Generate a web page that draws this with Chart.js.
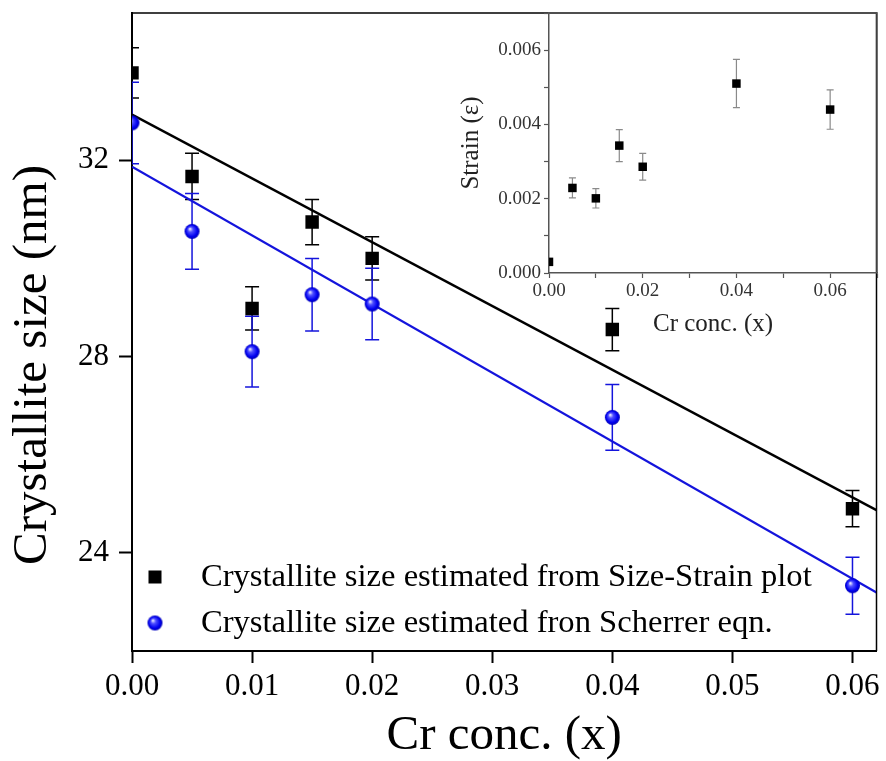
<!DOCTYPE html>
<html lang="en">
<head>
  <meta charset="UTF-8" />
  <title>Crystallite size vs Cr conc.</title>
  <script src="https://cdn.jsdelivr.net/npm/chart.js"></script>
  <style>
    html, body { margin: 0; padding: 0; background: #fff; }
    #wrap { position: relative; width: 886px; height: 761px; }
    #mainBox { position: absolute; left: 0; top: 0; width: 886px; height: 761px; }
    #insetBox { position: absolute; left: 440px; top: 0; width: 446px; height: 345px; }
  </style>
</head>
<body>
  <div id="wrap">
    <div id="mainBox"><canvas id="mainChart"></canvas></div>
    <div id="insetBox"><canvas id="insetChart"></canvas></div>
  </div>
  <script>
    // values
    const crConc = [0, 0.005, 0.01, 0.015, 0.02, 0.04, 0.06];
    const sizeStrain = [33.78, 31.67, 28.98, 30.74, 30.00, 28.55, 24.90];
    const sizeStrainErr = [0.51, 0.47, 0.44, 0.46, 0.44, 0.43, 0.37];
    const scherrer = [32.76, 30.55, 28.10, 29.26, 29.07, 26.76, 23.33];
    const scherrerErr = [0.83, 0.77, 0.72, 0.74, 0.73, 0.67, 0.58];
    // linear fits (end points)
    const fitX = [0, 0.062];
    const sizeStrainFit = [32.93, 24.87];
    const scherrerFit = [31.87, 23.19];
    // inset: strain
    const strain = [0.0003, 0.00229, 0.00201, 0.00343, 0.00286, 0.0051, 0.0044];
    const strainErr = [0, 0.00027, 0.00026, 0.00043, 0.00036, 0.00065, 0.00053];

    const legendLabels = [
      'Crystallite size estimated from Size-Strain plot',
      'Crystallite size estimated fron Scherrer eqn.'
    ];
    const yTitle = 'Crystallite size (nm)';

    const SERIF = '"Liberation Serif", "Times New Roman", serif';
    const BLUE = '#1414dc';

    const pts = (xs, ys) => xs.map((x, i) => ({ x, y: ys[i] }));

    const makeSphere = (r) => {
      const c = document.createElement('canvas');
      const s = Math.ceil(r * 2) + 2;
      c.width = c.height = s;
      const g = c.getContext('2d');
      const cx = s / 2, cy = s / 2;
      const grad = g.createRadialGradient(cx - r * 0.3, cy - r * 0.35, r * 0.05, cx, cy, r);
      grad.addColorStop(0, '#ececff');
      grad.addColorStop(0.3, '#5050ff');
      grad.addColorStop(0.75, '#0000f0');
      grad.addColorStop(1, '#0000b4');
      g.fillStyle = grad;
      g.beginPath();
      g.arc(cx, cy, r, 0, Math.PI * 2);
      g.fill();
      return c;
    };
    const sphere = makeSphere(7.5);

    // keep the plot area exactly where the layout padding puts it
    const noScalePad = s => {
      s.paddingTop = 0; s.paddingBottom = 0;
      s.paddingLeft = 0; s.paddingRight = 0;
    };

    const errorBars = {
      id: 'errorBars',
      beforeDatasetsDraw(chart) {
        const { ctx, chartArea: a, scales: { x, y } } = chart;
        ctx.save();
        ctx.beginPath();
        ctx.rect(a.left, a.top, a.width, a.height);
        ctx.clip();
        chart.data.datasets.forEach(ds => {
          if (!ds.errors) return;
          ctx.strokeStyle = ds.errorColor;
          ctx.lineWidth = ds.errorWidth;
          ds.data.forEach((p, i) => {
            const e = ds.errors[i];
            if (!e) return;
            const px = x.getPixelForValue(p.x);
            const y1 = y.getPixelForValue(p.y + e);
            const y2 = y.getPixelForValue(p.y - e);
            const c = ds.errorCap;
            ctx.beginPath();
            ctx.moveTo(px, y1); ctx.lineTo(px, y2);
            ctx.moveTo(px - c, y1); ctx.lineTo(px + c, y1);
            ctx.moveTo(px - c, y2); ctx.lineTo(px + c, y2);
            ctx.stroke();
          });
        });
        ctx.restore();
      }
    };

    const frame = {
      id: 'frame',
      afterDraw(chart, args, opts) {
        const { ctx, chartArea: a } = chart;
        ctx.save();
        ctx.strokeStyle = opts.color;
        ctx.lineWidth = opts.width;
        ctx.beginPath();
        ctx.moveTo(a.left, a.top);
        ctx.lineTo(a.right, a.top);
        ctx.lineTo(a.right, a.bottom);
        ctx.stroke();
        ctx.restore();
      }
    };

    // legend inside the plot + y title sitting a bit below centre, as in the figure
    const innerLegend = {
      id: 'innerLegend',
      afterDraw(chart) {
        const { ctx, chartArea: a } = chart;
        ctx.save();
        ctx.font = '32.6px ' + SERIF;
        ctx.fillStyle = '#000';
        ctx.textBaseline = 'middle';
        ctx.textAlign = 'left';
        const rows = [a.bottom - 74, a.bottom - 28];
        const mx = a.left + 23;
        ctx.fillRect(mx - 6.5, rows[0] - 6.5, 13, 13);
        ctx.drawImage(sphere, mx - sphere.width / 2, rows[1] - sphere.height / 2);
        legendLabels.forEach((t, i) => ctx.fillText(t, a.left + 69, rows[i]));

        ctx.translate(33, 365);
        ctx.rotate(-Math.PI / 2);
        ctx.textAlign = 'center';
        ctx.font = '49px ' + SERIF;
        ctx.fillText(yTitle, 0, 0);
        ctx.restore();
      }
    };

    new Chart(document.getElementById('mainChart'), {
      type: 'scatter',
      data: {
        datasets: [
          {
            label: legendLabels[0],
            data: pts(crConc, sizeStrain),
            pointStyle: 'rect',
            pointRadius: 9.5,
            backgroundColor: '#000',
            borderColor: '#000',
            borderWidth: 0,
            clip: 0,
            order: 0,
            errors: sizeStrainErr, errorColor: '#000', errorWidth: 1.5, errorCap: 7
          },
          {
            label: legendLabels[1],
            data: pts(crConc, scherrer),
            pointStyle: sphere,
            pointRadius: 7.5,
            clip: 0,
            order: 0,
            errors: scherrerErr, errorColor: BLUE, errorWidth: 1.5, errorCap: 7
          },
          {
            label: 'fit 1',
            type: 'line',
            data: pts(fitX, sizeStrainFit),
            borderColor: '#000',
            borderWidth: 2.5,
            pointRadius: 0,
            clip: 0,
            order: 1
          },
          {
            label: 'fit 2',
            type: 'line',
            data: pts(fitX, scherrerFit),
            borderColor: BLUE,
            borderWidth: 2.2,
            pointRadius: 0,
            clip: 0,
            order: 1
          }
        ]
      },
      options: {
        responsive: true,
        maintainAspectRatio: false,
        animation: false,
        events: [],
        layout: { padding: { left: 0, right: 8, top: 13, bottom: 0 } },
        plugins: {
          legend: { display: false },
          tooltip: { enabled: false },
          frame: { color: '#000', width: 1.5 }
        },
        scales: {
          x: {
            type: 'linear',
            min: 0,
            max: 0.062,
            afterFit: s => { s.height = 110; noScalePad(s); },
            border: { display: true, color: '#000', width: 2 },
            grid: { drawOnChartArea: false, drawTicks: true, tickLength: 12, tickWidth: 2, tickColor: '#000' },
            ticks: {
              stepSize: 0.01,
              includeBounds: false,
              autoSkip: false,
              maxRotation: 0,
              padding: 5,
              color: '#000',
              font: { family: SERIF, size: 31 },
              callback: v => v.toFixed(2)
            },
            title: {
              display: true,
              text: 'Cr conc. (x)',
              color: '#000',
              font: { family: SERIF, size: 49, lineHeight: 1 },
              padding: { top: 0, bottom: 0 }
            }
          },
          y: {
            min: 22,
            max: 35,
            afterFit: s => { s.width = 132; noScalePad(s); },
            border: { display: true, color: '#000', width: 2 },
            grid: { drawOnChartArea: false, drawTicks: true, tickLength: 13, tickWidth: 2, tickColor: '#000' },
            ticks: {
              stepSize: 4,
              includeBounds: false,
              padding: 10,
              color: '#000',
              font: { family: SERIF, size: 31 }
            },
            title: { display: false }
          }
        }
      },
      plugins: [errorBars, frame, innerLegend]
    });

    new Chart(document.getElementById('insetChart'), {
      type: 'scatter',
      data: {
        datasets: [{
          label: 'Strain',
          data: pts(crConc, strain),
          pointStyle: 'rect',
          pointRadius: 6,
          backgroundColor: '#000',
          borderWidth: 0,
          clip: 0,
          errors: strainErr, errorColor: '#8a8a8a', errorWidth: 1.2, errorCap: 3.5
        }]
      },
      options: {
        responsive: true,
        maintainAspectRatio: false,
        animation: false,
        events: [],
        layout: { padding: { left: 0, right: 9, top: 13, bottom: 0 } },
        plugins: {
          legend: { display: false },
          tooltip: { enabled: false },
          frame: { color: '#555', width: 1.5 }
        },
        scales: {
          x: {
            type: 'linear',
            min: 0,
            max: 0.07,
            afterFit: s => { s.height = 72; noScalePad(s); },
            border: { display: true, color: '#555', width: 1.5 },
            grid: { drawOnChartArea: false, drawTicks: true, tickLength: 5, tickWidth: 1.2, tickColor: '#555' },
            ticks: {
              stepSize: 0.01,
              autoSkip: false,
              maxRotation: 0,
              padding: 2,
              color: '#333',
              font: { family: SERIF, size: 19 },
              callback: v => (Math.round(v * 100) % 2 === 0 ? v.toFixed(2) : '')
            },
            title: {
              display: true,
              text: 'Cr conc. (x)',
              color: '#222',
              font: { family: SERIF, size: 25, lineHeight: 1 },
              padding: { top: 0, bottom: 8.5 }
            }
          },
          y: {
            min: 0,
            max: 0.007,
            afterFit: s => { s.width = 109; noScalePad(s); },
            border: { display: true, color: '#555', width: 1.5 },
            grid: { drawOnChartArea: false, drawTicks: true, tickLength: 5, tickWidth: 1.2, tickColor: '#555' },
            ticks: {
              stepSize: 0.001,
              autoSkip: false,
              padding: 3,
              color: '#333',
              font: { family: SERIF, size: 19 },
              callback: v => (Math.round(v * 1000) % 2 === 0 ? v.toFixed(3) : '')
            },
            title: {
              display: true,
              text: 'Strain (ε)',
              color: '#222',
              font: { family: SERIF, size: 25, lineHeight: 1 },
              padding: { top: 18.5, bottom: 0 }
            }
          }
        }
      },
      plugins: [errorBars, frame]
    });
  </script>
</body>
</html>
